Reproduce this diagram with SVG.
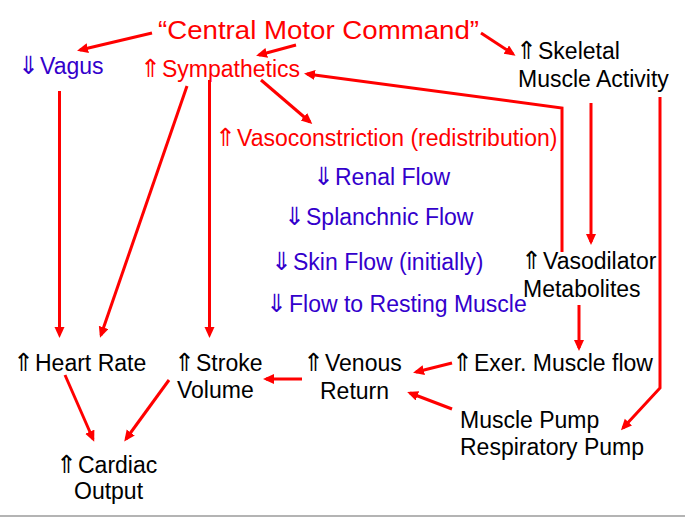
<svg xmlns="http://www.w3.org/2000/svg" width="685" height="518" viewBox="0 0 685 518">
<style>
text{font-family:"Liberation Sans","DejaVu Sans",Arial,sans-serif;font-size:23px}
.a{font-family:"DejaVu Sans",sans-serif;font-size:25px}
.r{fill:#ff0000}
.b{fill:#3300cc}
.k{fill:#000000}
.c{fill:none;stroke:#ff0000;stroke-width:3;marker-end:url(#ah)}
</style>
<defs>
<marker id="ah" markerUnits="userSpaceOnUse" markerWidth="11" markerHeight="11" refX="8" refY="5" orient="auto">
<path d="M0,0 L11,5 L0,10 z" fill="#ff0000"/>
</marker>
</defs>
<rect width="685" height="518" fill="#ffffff"/>
<line x1="0" y1="516" x2="685" y2="516" stroke="#b4b4b4" stroke-width="2"/>
<g id="connectors">
<path class="c" d="M152,33 L80,50"/>
<path class="c" d="M296,45 L259,55"/>
<path class="c" d="M481,33 L513,54"/>
<path class="c" d="M261,80 L310,122"/>
<path class="c" d="M562,252 L562,108 L307,74"/>
<path class="c" d="M591,103 L591,242"/>
<path class="c" d="M660,97 L660,388 L623,428"/>
<path class="c" d="M59.5,91 L59.5,335"/>
<path class="c" d="M187,86 L101,335"/>
<path class="c" d="M209.5,80 L209.5,335"/>
<path class="c" d="M579,305 L579,348"/>
<path class="c" d="M452,363 L416,372"/>
<path class="c" d="M452,409 L410,393"/>
<path class="c" d="M302,379 L266,379"/>
<path class="c" d="M65,375 L93,439"/>
<path class="c" d="M169,380 L126,439"/>
</g>
<g id="central-motor-command">
<text class="r" x="158" y="39" style="font-size:26.5px" textLength="321" lengthAdjust="spacingAndGlyphs">“Central Motor Command”</text>
</g>
<g id="vagus">
<text class="b" x="18" y="74"><tspan class="a">⇓</tspan><tspan x="40">Vagus</tspan></text>
</g>
<g id="sympathetics">
<text class="r" x="140" y="77"><tspan class="a">⇑</tspan><tspan x="162">Sympathetics</tspan></text>
</g>
<g id="skeletal-muscle-activity">
<text class="k" x="516" y="59"><tspan class="a">⇑</tspan><tspan x="538">Skeletal</tspan></text>
<text class="k" x="518" y="87">Muscle Activity</text>
</g>
<g id="vasoconstriction">
<text class="r" x="215" y="146"><tspan class="a">⇑</tspan><tspan x="237">Vasoconstriction (redistribution)</tspan></text>
</g>
<g id="renal-flow">
<text class="b" x="313" y="185"><tspan class="a">⇓</tspan><tspan x="335">Renal Flow</tspan></text>
</g>
<g id="splanchnic-flow">
<text class="b" x="284" y="225"><tspan class="a">⇓</tspan><tspan x="306">Splanchnic Flow</tspan></text>
</g>
<g id="skin-flow">
<text class="b" x="271" y="270"><tspan class="a">⇓</tspan><tspan x="293">Skin Flow (initially)</tspan></text>
</g>
<g id="flow-resting-muscle">
<text class="b" x="266" y="312"><tspan class="a">⇓</tspan><tspan x="289">Flow to Resting Muscle</tspan></text>
</g>
<g id="vasodilator-metabolites">
<text class="k" x="521" y="269"><tspan class="a">⇑</tspan><tspan x="543">Vasodilator</tspan></text>
<text class="k" x="523" y="297">Metabolites</text>
</g>
<g id="heart-rate">
<text class="k" x="13" y="371"><tspan class="a">⇑</tspan><tspan x="35">Heart Rate</tspan></text>
</g>
<g id="stroke-volume">
<text class="k" x="174" y="371"><tspan class="a">⇑</tspan><tspan x="196">Stroke</tspan></text>
<text class="k" x="177" y="398">Volume</text>
</g>
<g id="venous-return">
<text class="k" x="303" y="371"><tspan class="a">⇑</tspan><tspan x="325">Venous</tspan></text>
<text class="k" x="320" y="399">Return</text>
</g>
<g id="exer-muscle-flow">
<text class="k" x="452" y="371"><tspan class="a">⇑</tspan><tspan x="474">Exer. Muscle flow</tspan></text>
</g>
<g id="pumps">
<text class="k" x="460" y="428">Muscle Pump</text>
<text class="k" x="460" y="455">Respiratory Pump</text>
</g>
<g id="cardiac-output">
<text class="k" x="56" y="473"><tspan class="a">⇑</tspan><tspan x="78">Cardiac</tspan></text>
<text class="k" x="74" y="499">Output</text>
</g>
</svg>
